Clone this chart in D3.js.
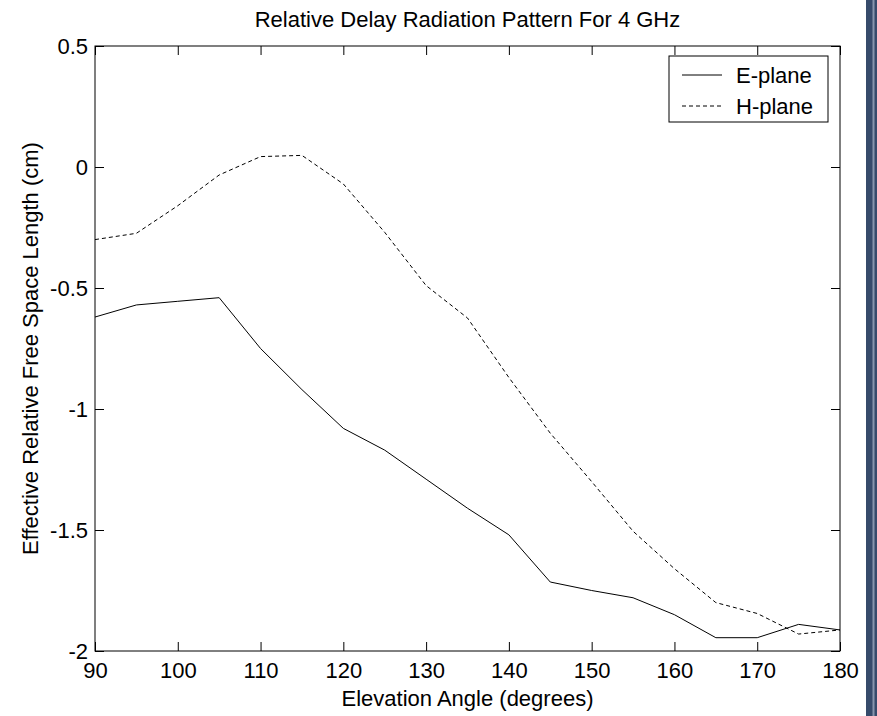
<!DOCTYPE html>
<html>
<head>
<meta charset="utf-8">
<script src="https://cdn.jsdelivr.net/npm/d3@7"></script>
<style>
  body { margin: 0; background: #fff; }
  svg { display: block; font-family: "Liberation Sans", Arial, sans-serif; }
</style>
</head>
<body>
<svg id="chart" width="877" height="716"></svg>
<script>
// elevation angles (degrees)
var angles = [90, 95, 100, 105, 110, 115, 120, 125, 130, 135, 140, 145, 150, 155, 160, 165, 170, 175, 180];
// effective relative free space length (cm)
var ePlane = [-0.62, -0.57, -0.555, -0.54, -0.75, -0.92, -1.08, -1.17, -1.29, -1.41, -1.52, -1.715, -1.75, -1.78, -1.85, -1.945, -1.945, -1.89, -1.913];
var hPlane = [-0.30, -0.274, -0.16, -0.033, 0.043, 0.048, -0.07, -0.27, -0.49, -0.624, -0.87, -1.10, -1.30, -1.505, -1.66, -1.80, -1.845, -1.93, -1.913];
var xTicks = [90, 100, 110, 120, 130, 140, 150, 160, 170, 180];
var yTicks = [-2, -1.5, -1, -0.5, 0, 0.5];
var seriesNames = ["E-plane", "H-plane"];

window.addEventListener("load", makeChart);
function makeChart() {
    var svg = d3.select("#chart");
    var L = 95, R = 840, T = 46, B = 651;

    var scX = d3.scaleLinear().domain([90, 180]).range([L, R]);
    var scY = d3.scaleLinear().domain([-2, 0.5]).range([B, T]);

    // right side border of the page
    svg.append("rect").attr("x", 866).attr("y", 0).attr("width", 11).attr("height", 716)
        .attr("fill", "#364b6b");
    svg.append("rect").attr("x", 872.5).attr("y", 0).attr("width", 2).attr("height", 716)
        .attr("fill", "#8796ad");

    // axes: ticks pointing inward, on all four sides
    var fmt = d => String(d);
    svg.append("g").attr("transform", "translate(0," + B + ")")
        .call(d3.axisBottom(scX).tickValues(xTicks).tickSize(-9).tickPadding(11).tickFormat(fmt));
    svg.append("g").attr("transform", "translate(0," + T + ")")
        .call(d3.axisTop(scX).tickValues(xTicks).tickSize(-9).tickFormat(""));
    svg.append("g").attr("transform", "translate(" + L + ",0)")
        .call(d3.axisLeft(scY).tickValues(yTicks).tickSize(-9).tickPadding(7).tickFormat(fmt));
    svg.append("g").attr("transform", "translate(" + R + ",0)")
        .call(d3.axisRight(scY).tickValues(yTicks).tickSize(-9).tickFormat(""));
    svg.selectAll(".domain").remove();
    svg.selectAll(".tick line").attr("stroke", "#000");
    svg.selectAll(".tick text").attr("font-size", 22).attr("fill", "#000")
        .attr("font-family", "Liberation Sans, Arial, sans-serif");

    svg.append("rect").attr("x", L).attr("y", T).attr("width", R - L).attr("height", B - T)
        .attr("fill", "none").attr("stroke", "#000").attr("stroke-width", 1);

    // lines
    var line = d3.line().x((d, i) => scX(angles[i])).y(d => scY(d));
    svg.append("path").attr("d", line(ePlane)).attr("fill", "none")
        .attr("stroke", "#000").attr("stroke-width", 1);
    svg.append("path").attr("d", line(hPlane)).attr("fill", "none")
        .attr("stroke", "#000").attr("stroke-width", 1).attr("stroke-dasharray", "4,3");

    // title and axis labels
    svg.append("text").attr("x", (L + R) / 2).attr("y", 27).attr("text-anchor", "middle")
        .attr("font-size", 22).text("Relative Delay Radiation Pattern For 4 GHz");
    svg.append("text").attr("x", (L + R) / 2).attr("y", 706).attr("text-anchor", "middle")
        .attr("font-size", 22).text("Elevation Angle (degrees)");
    svg.append("text").attr("transform", "translate(38," + (T + B) / 2 + ") rotate(-90)")
        .attr("text-anchor", "middle").attr("font-size", 22)
        .text("Effective Relative Free Space Length (cm)");

    // legend
    var lg = svg.append("g").attr("transform", "translate(669,56)");
    lg.append("rect").attr("width", 159).attr("height", 66)
        .attr("fill", "#fff").attr("stroke", "#000");
    var rows = lg.selectAll("g.row").data(seriesNames).enter().append("g")
        .attr("transform", (d, i) => "translate(0," + (19 + i * 31) + ")");
    rows.append("line").attr("x1", 13).attr("x2", 53).attr("stroke", "#000")
        .attr("stroke-dasharray", (d, i) => i ? "4,3" : null);
    rows.append("text").attr("x", 67).attr("y", 8).attr("font-size", 22).text(d => d);
}
</script>
</body>
</html>
